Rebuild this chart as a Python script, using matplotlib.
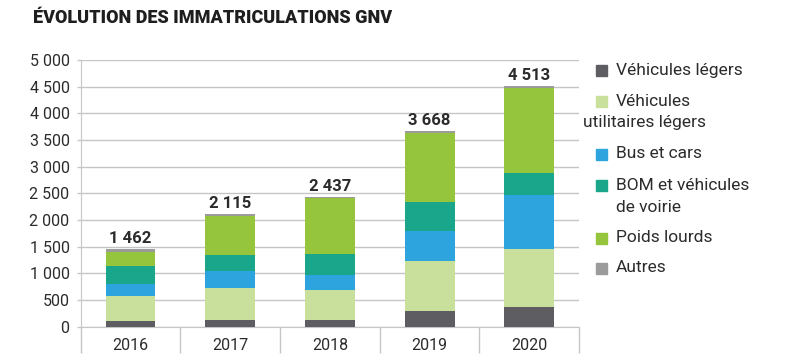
import matplotlib
matplotlib.use("Agg")
import matplotlib.pyplot as plt
import numpy as np
from matplotlib.patches import Rectangle

# données (lecture sur le graphique)
years = ["2016", "2017", "2018", "2019", "2020"]
totals = [1462, 2115, 2437, 3668, 4513]
vl = [105, 120, 130, 290, 370]          # Véhicules légers
vul = [470, 610, 550, 940, 1090]        # Véhicules utilitaires légers
bus = [235, 310, 290, 560, 1010]        # Bus et cars
bom = [325, 305, 395, 550, 410]         # BOM et véhicules de voirie
pl = [270, 735, 1040, 1290, 1600]       # Poids lourds
autres = [57, 35, 32, 38, 33]           # Autres

series = [vl, vul, bus, bom, pl, autres]
colors = ["#5e5e62", "#c9e09c", "#2da4de", "#19a68b", "#95c43d", "#9b9b9b"]
legend_labels = ["Véhicules légers", "Véhicules\nutilitaires légers", "Bus et cars",
                 "BOM et véhicules\nde voirie", "Poids lourds", "Autres"]
yticks = [0, 500, 1000, 1500, 2000, 2500, 3000, 3500, 4000, 4500, 5000]

plt.rcParams['font.family'] = ['Roboto', 'DejaVu Sans']
txt = "#2b2b2b"
grid_c = "#c6c6c6"

fig = plt.figure(figsize=(7.85, 3.62), dpi=100)
ax = fig.add_axes([0.1028, 0.0975, 0.635, 0.7365])

x = np.arange(len(years))
bottom = np.zeros(len(years))
for vals, c in zip(series, colors):
    ax.bar(x, vals, 0.5, bottom=bottom, color=c, zorder=3)
    bottom += np.array(vals)

for xi, t in zip(x, totals):
    ax.text(xi, t + 60, f"{t:,}".replace(",", " "), ha="center", va="bottom",
            fontsize=12, fontweight="bold", color=txt)

ax.set_xlim(-0.5, len(years) - 0.5)
ax.set_ylim(0, 5000)
ax.set_yticks(yticks)
ax.set_yticklabels([f"{v:,}".replace(",", " ") for v in yticks], fontsize=11.5, color=txt)
ax.set_xticks(x)
ax.set_xticklabels(years, fontsize=11.5, color=txt)
ax.set_xticks(np.arange(-0.5, len(years)), minor=True)
ax.tick_params(axis="x", which="major", length=0, pad=8)
ax.tick_params(axis="x", which="minor", length=19, color=grid_c, width=1)
ax.tick_params(axis="y", length=3, color=grid_c, width=1, pad=5)
ax.yaxis.grid(True, color=grid_c, lw=1, zorder=0)
for s in ["top", "right"]:
    ax.spines[s].set_visible(False)
for s in ["left", "bottom"]:
    ax.spines[s].set_color(grid_c)

fig.text(33 / 785, 1 - 18 / 362, "ÉVOLUTION DES IMMATRICULATIONS GNV", fontsize=13,
         fontweight="heavy", color="#1e1e1e", va="center", ha="left")

# légende
leg_y = [70, 101, 154, 185, 238, 268]
for lab, c, yy in zip(legend_labels, colors, leg_y):
    fy = 1 - yy / 362
    fig.patches.append(Rectangle((596 / 785, fy - 5.5 / 362), 11 / 785, 11 / 362,
                                 color=c, transform=fig.transFigure))
    lines = lab.split("\n")
    fig.text(616 / 785, fy, lines[0], fontsize=12.5, color=txt, va="center")
    if len(lines) > 1:
        lx = 583 if lab.startswith("Véhicules\n") else 616
        fig.text(lx / 785, fy - 22 / 362, lines[1], fontsize=12.5, color=txt, va="center")

fig.savefig("out.png", dpi=100)
